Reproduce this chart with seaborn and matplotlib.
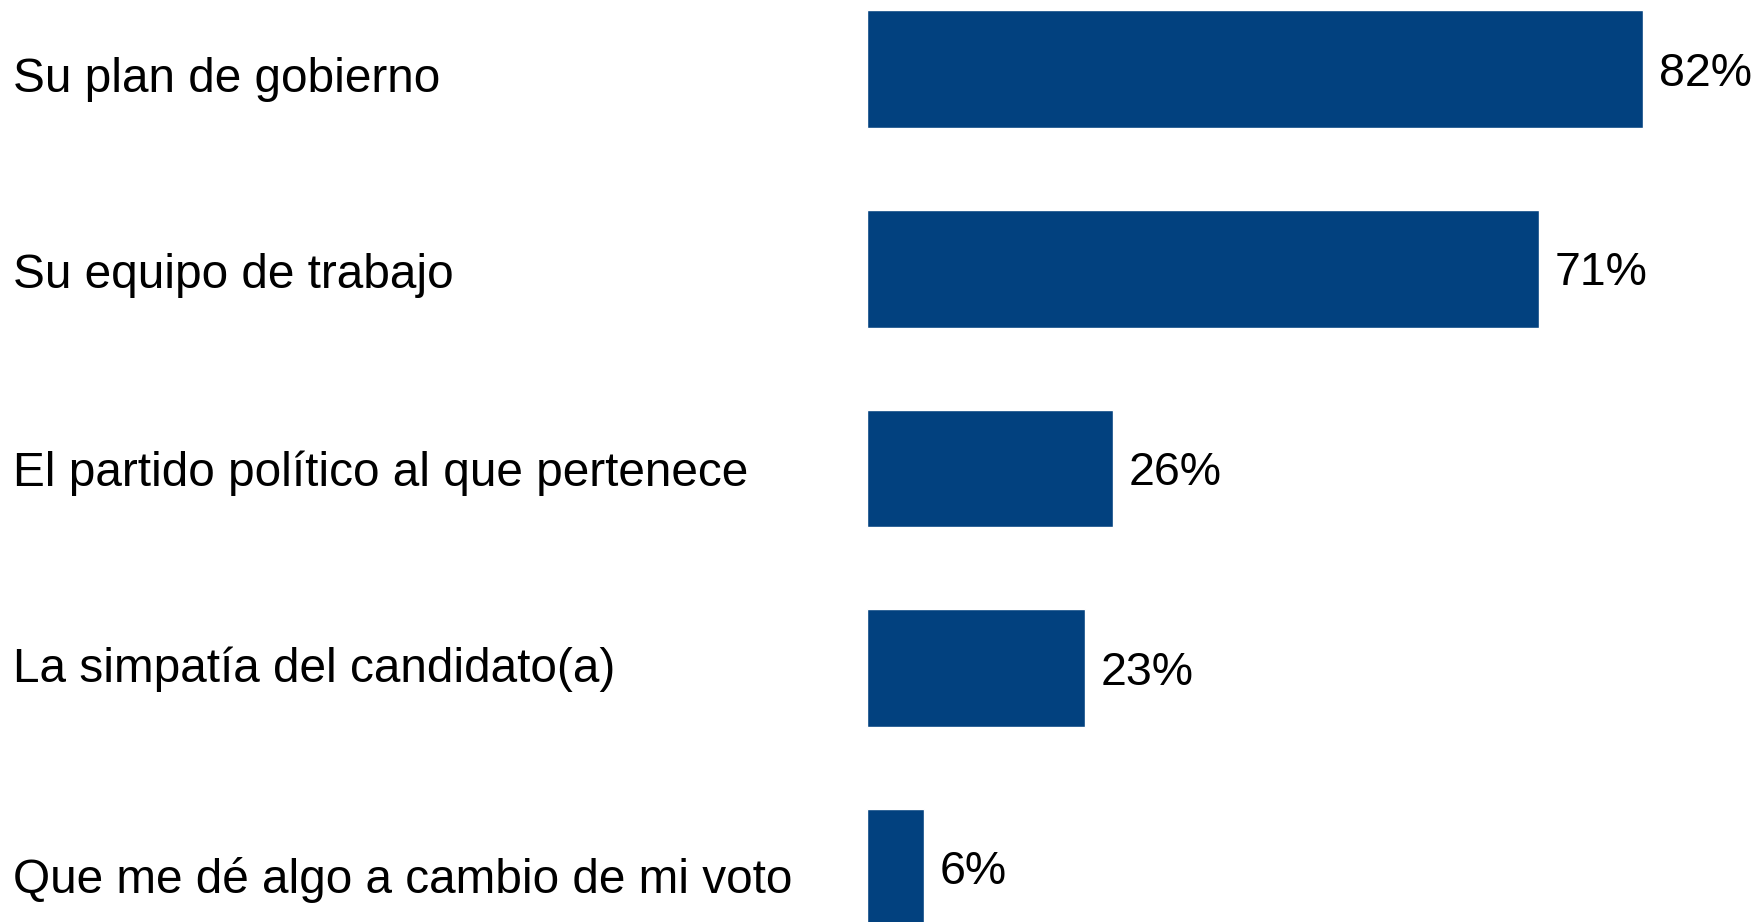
#!/usr/bin/env python
"""
Horizontal bar chart: factors that matter when choosing a candidate.
"""

import matplotlib
matplotlib.use("Agg")
import matplotlib.pyplot as plt
import matplotlib.transforms as mtransforms
import pandas as pd
import seaborn as sns

# Data
categories = [
    "Su plan de gobierno",
    "Su equipo de trabajo",
    "El partido político al que pertenece",
    "La simpatía del candidato(a)",
    "Que me dé algo a cambio de mi voto",
]
values = [82, 71, 26, 23, 6]

BAR_COLOR = "#02417F"
# the category labels in the original are not quite centred on their bars (pixels, down)
LABEL_SHIFT_PX = [5.4, 1.5, -0.5, -4.0, 7.5]

sns.set_theme(style="white")
plt.rcParams["font.family"] = ["Liberation Sans", "DejaVu Sans"]

df = pd.DataFrame({"category": categories, "value": values})

fig = plt.figure(figsize=(17.58, 9.22), dpi=100)
# axes start where the bars start; labels sit out to the left
ax = fig.add_axes([867 / 1758, 0.0, 1 - 867 / 1758, 1.0])

sns.barplot(data=df, x="value", y="category", color=BAR_COLOR,
            saturation=1, width=0.59, orient="h", ax=ax)

ax.set_xlim(0, (1758 - 867) / 9.46)
ax.set_ylim(4.272, -0.347)

# value labels
for container in ax.containers:
    anns = ax.bar_label(container, labels=[f"{v}%" for v in values],
                        padding=11.5, fontsize=33.5, color="black")
    for ann in anns:
        ann.xyann = (11.5, -3.3)

# category labels, left-aligned at the figure edge
ax.tick_params(axis="y", length=0, pad=(867 - 13) * 72 / 100,
               labelsize=34.4, labelcolor="black")
for lbl, shift in zip(ax.get_yticklabels(), LABEL_SHIFT_PX):
    lbl.set_horizontalalignment("left")
    offset = mtransforms.ScaledTranslation(0, -shift / 100, fig.dpi_scale_trans)
    lbl.set_transform(lbl.get_transform() + offset)

ax.set_xticks([])
ax.set_xlabel("")
ax.set_ylabel("")
sns.despine(ax=ax, left=True, bottom=True)

fig.savefig("out.png", dpi=100)
plt.close(fig)
